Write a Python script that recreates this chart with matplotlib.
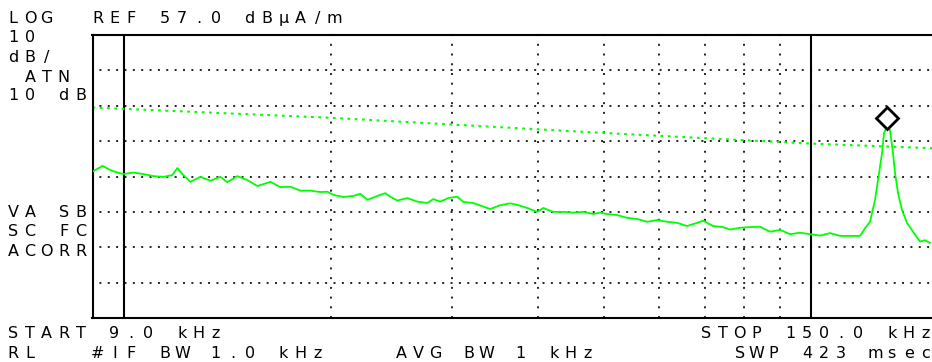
import matplotlib.pyplot as plt
import matplotlib.transforms as mtransforms
from matplotlib.ticker import NullLocator

# Trace (kHz, dBuA/m)
freq_khz = [9.00, 9.31, 9.56, 9.79, 9.98,
            10.33, 10.68, 11.04, 11.42, 11.76,
            11.96, 12.16, 12.49, 12.92, 13.36,
            13.81, 14.14, 14.62, 15.12, 15.64,
            16.34, 16.89, 17.47, 18.06, 18.68,
            19.32, 19.77, 20.18, 20.86, 21.57,
            22.08, 22.61, 23.38, 24.01, 24.42,
            25.00, 25.85, 26.73, 27.64, 28.20,
            28.87, 29.65, 30.56, 31.18, 32.24,
            33.34, 34.13, 35.29, 36.50, 37.49,
            38.64, 39.95, 40.76, 42.15, 43.59,
            45.07, 46.61, 48.19, 49.33, 50.50,
            52.22, 54.00, 55.84, 57.74, 59.71,
            61.74, 63.85, 66.02, 68.27, 69.65,
            72.03, 74.48, 76.24, 78.84, 81.53,
            84.30, 87.17, 90.16, 93.23, 96.40,
            99.69, 103.08, 106.59, 110.22, 113.98,
            117.86, 119.85, 121.87, 123.93, 125.18,
            126.87, 127.72, 129.01, 130.31, 131.63,
            132.52, 133.86, 135.66, 137.95, 140.75,
            144.09, 146.52, 149.00]
level_db = [18.4, 20.0, 18.8, 18.1, 17.7,
            18.1, 17.7, 17.1, 16.9, 17.4,
            19.4, 17.7, 15.5, 16.9, 15.8,
            16.9, 15.4, 17.1, 16.0, 14.3,
            15.5, 14.0, 14.1, 13.0, 13.0,
            12.6, 12.7, 11.8, 11.2, 11.5,
            12.1, 10.4, 11.5, 12.3, 11.3,
            10.2, 10.9, 9.9, 9.5, 10.6,
            9.9, 10.9, 11.3, 9.8, 9.5,
            8.5, 7.8, 8.9, 9.4, 8.9,
            8.1, 7.0, 8.1, 7.0, 7.0,
            6.8, 7.0, 6.4, 6.8, 6.4,
            6.1, 5.3, 5.0, 4.2, 4.7,
            4.2, 3.9, 3.0, 3.9, 4.5,
            3.0, 2.7, 2.0, 2.5, 2.7,
            2.8, 1.4, 1.9, 0.7, 1.1,
            0.7, 0.3, 1.0, 0.2, 0.2,
            0.2, 2.4, 4.2, 10.4, 16.0,
            23.6, 29.3, 31.3, 30.1, 23.6,
            18.0, 12.3, 7.5, 3.9, 1.4,
            -1.4, -1.0, -1.8]

# limit line
limit_khz = [9, 20, 50, 100, 150]
limit_db = [36.5, 33.6, 29.3, 26.3, 25.0]

# marker
peak_khz = 129.0
peak_db = 31.3

ref_level = 57.0
db_per_div = 10
n_div = 8
grid_khz = [20, 30, 40, 50, 60, 70, 80, 90]
decade_khz = [10, 100]

W, H = 932, 362
green = '#00ff00'
dots = '#222222'

fig = plt.figure(figsize=(W / 100, H / 100), dpi=100)
ax = fig.add_axes([92.5 / W, 44 / H, 1 - 92.5 / W, 283 / H])
ax.set_xscale('log')
ax.set_xlim(9, 150)
ax.set_ylim(ref_level - n_div * db_per_div, ref_level)
ax.xaxis.set_major_locator(NullLocator())
ax.xaxis.set_minor_locator(NullLocator())
ax.yaxis.set_major_locator(NullLocator())
for side in ['left', 'top', 'bottom']:
    ax.spines[side].set_linewidth(1.5)
ax.spines['right'].set_visible(False)

# graticule
for k in range(1, n_div):
    ax.axhline(ref_level - k * db_per_div, color=dots, lw=1.4,
               ls=(1, (1, 3.3)), zorder=1)
for f in grid_khz:
    ax.axvline(f, color=dots, lw=1.4, ls=(0, (1, 4.0)), zorder=1)
for f in decade_khz:
    ax.axvline(f, color='black', lw=1.5, zorder=1)

# traces
ax.plot(limit_khz, limit_db, color=green, lw=1.5, ls=(0, (1.3, 2.2)), zorder=2)
ax.plot(freq_khz, level_db, color=green, lw=1.3, zorder=3)

up = mtransforms.offset_copy(ax.transData, fig=fig, x=0, y=8, units='dots')
ax.plot([peak_khz], [peak_db], marker='D', ms=11, mfc='white', mec='black',
        mew=2, transform=up, zorder=4, clip_on=False)


def put(s, col, base):
    # fixed character pitch like the analyzer screen
    for i, ch in enumerate(s):
        if ch != ' ':
            fig.text((13 + 16.9 * (col + i)) / W, 1 - base / H, ch,
                     ha='center', va='baseline', fontsize=11.5,
                     family='DejaVu Sans')


put('LOG', 0, 23)
put('REF 57.0 dBµA/m', 5, 23)
put('10', 0, 42.5)
put('dB/', 0, 62)
put(' ATN', 0, 81.5)
put('10 dB', 0, 100)
put('VA SB', 0, 217)
put('SC FC', 0, 236.5)
put('ACORR', 0, 256.5)
put('START 9.0 kHz', 0, 338)
put('STOP 150.0 kHz', 41, 338)
put('RL   #IF BW 1.0 kHz', 0, 358)
put('AVG BW 1 kHz', 23, 358)
put('SWP 423 msec', 43, 358)

fig.savefig('out.png', dpi=100)
